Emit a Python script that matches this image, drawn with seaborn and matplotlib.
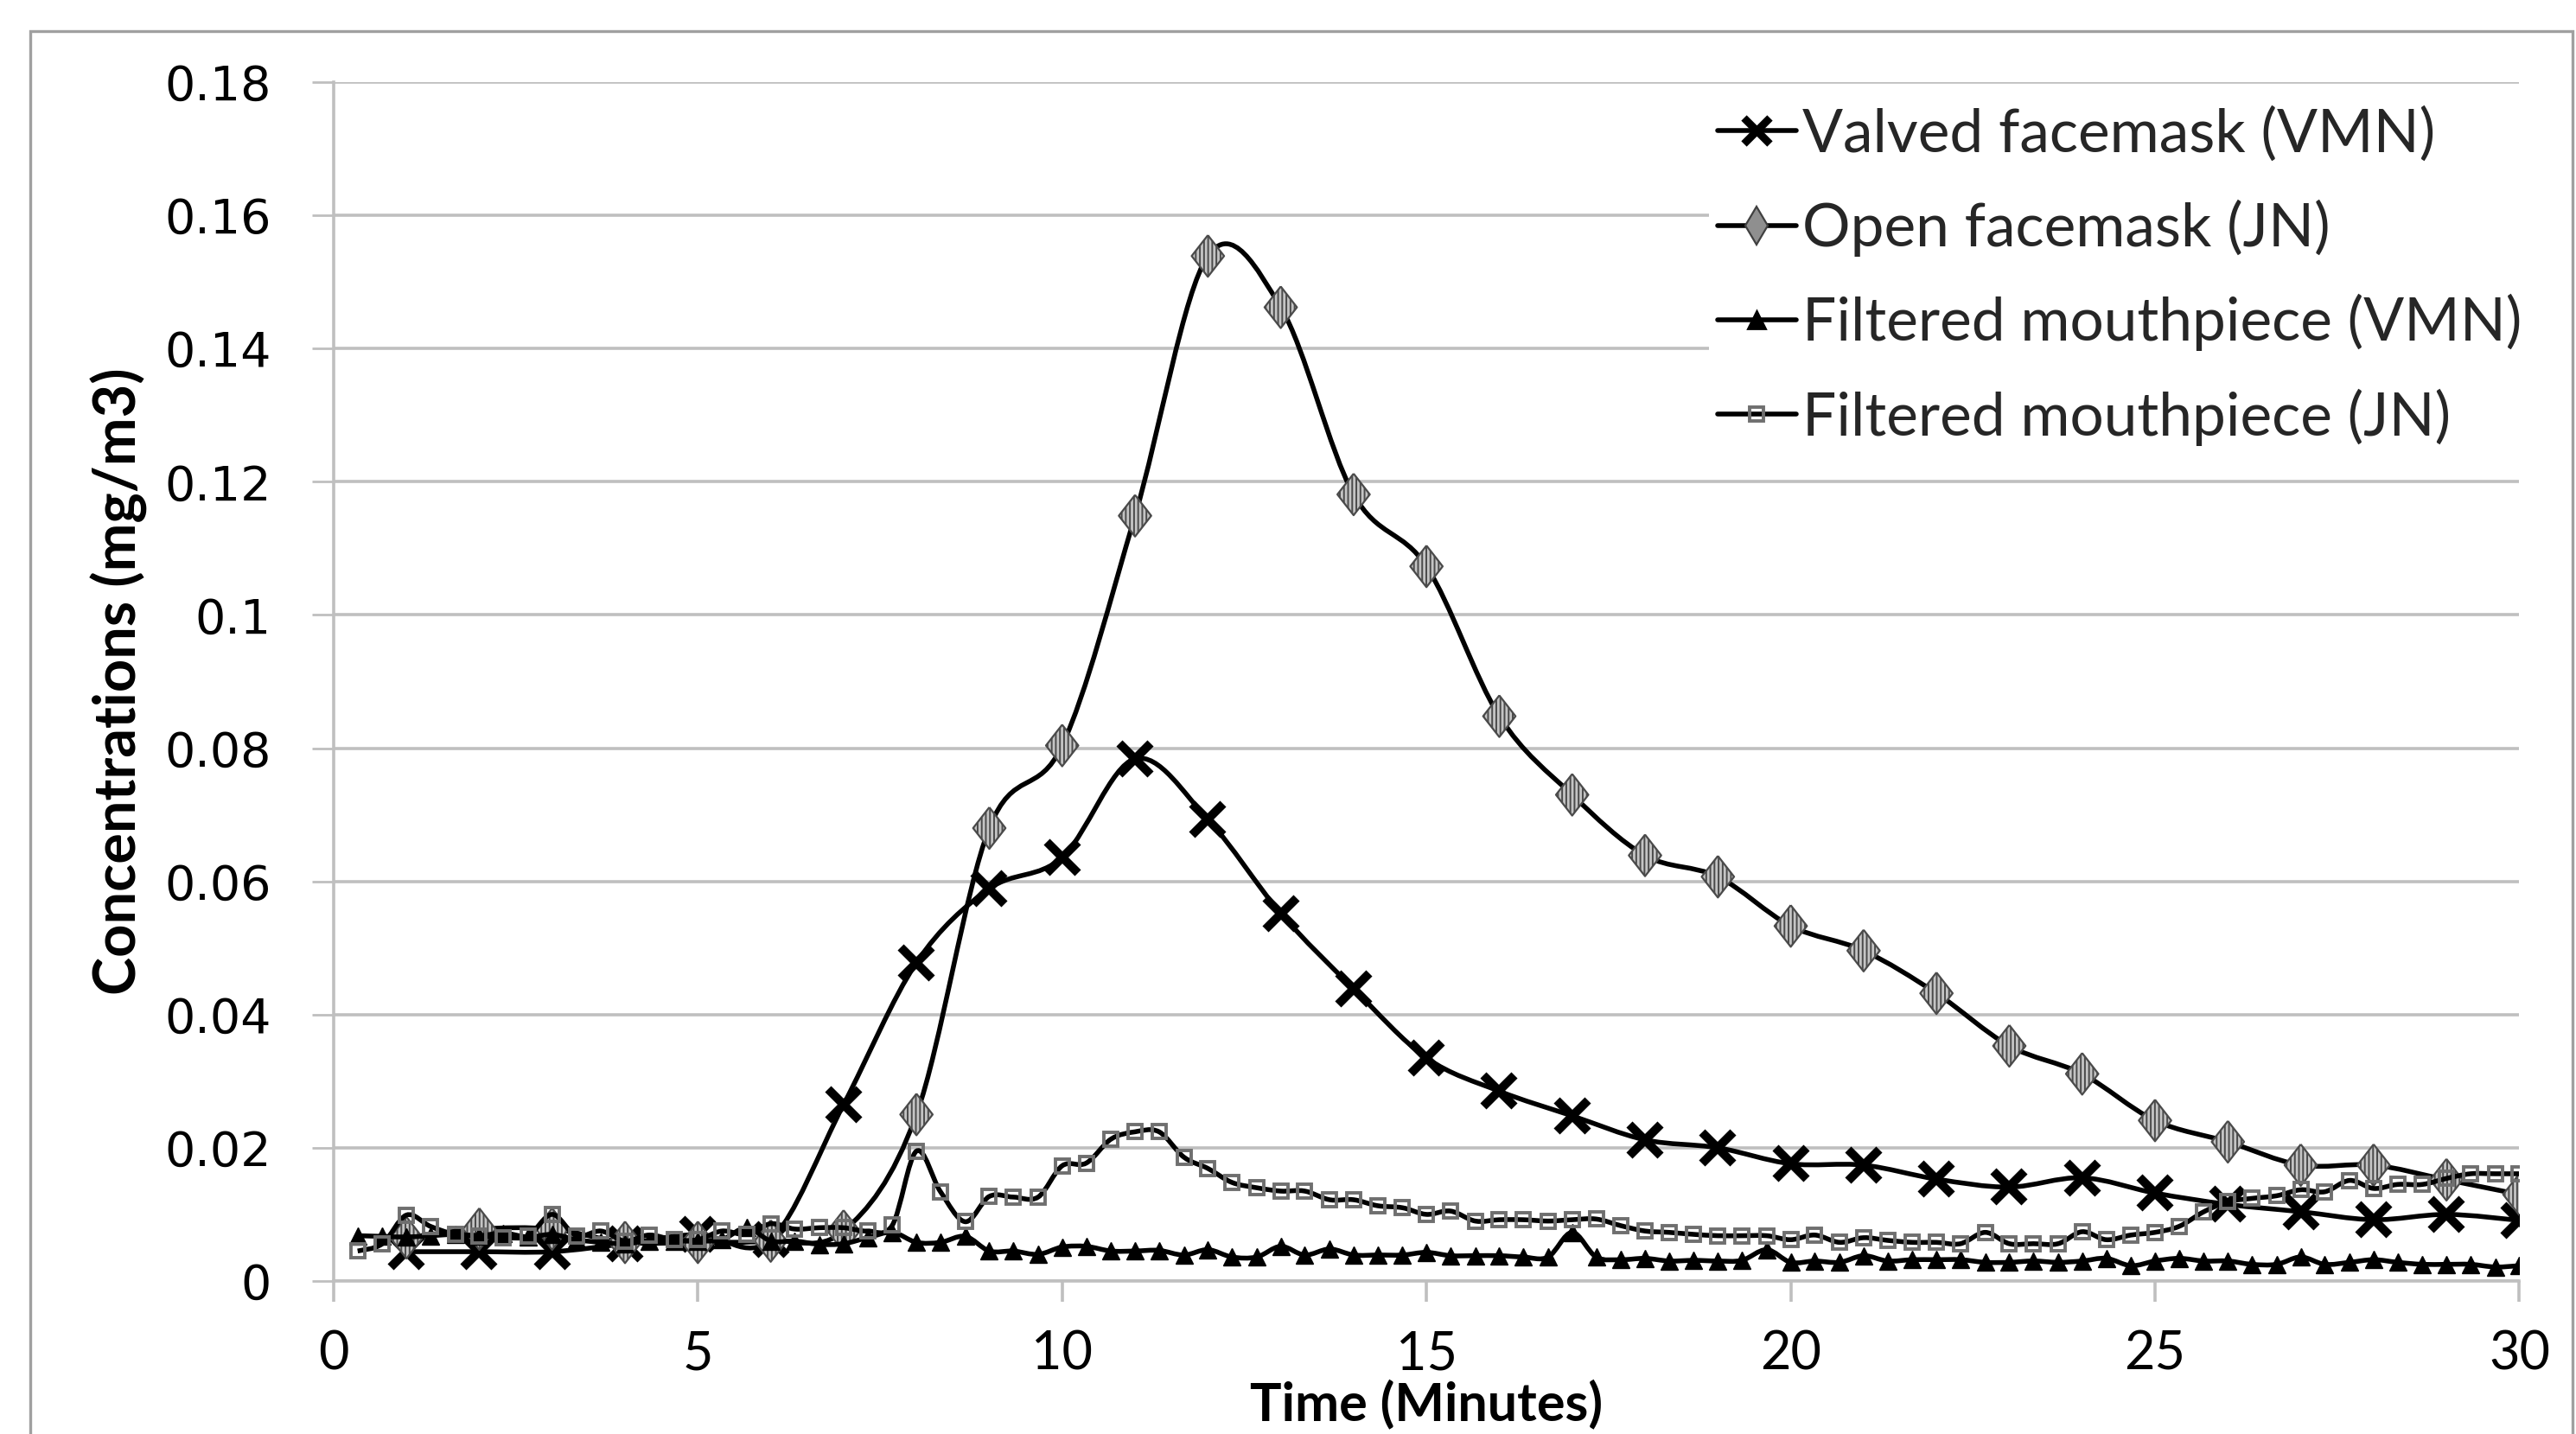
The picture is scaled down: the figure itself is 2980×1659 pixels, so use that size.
import numpy as np
import pandas as pd
import matplotlib
matplotlib.use('Agg')
import matplotlib.pyplot as plt
from matplotlib.path import Path
from matplotlib.patches import PathPatch, Rectangle
from matplotlib.lines import Line2D
import seaborn as sns

# One reading per minute (facemasks)
minutes = [1, 2, 3, 4, 5, 6, 7, 8, 9, 10, 11, 12, 13, 14, 15,
           16, 17, 18, 19, 20, 21, 22, 23, 24, 25, 26, 27, 28, 29, 30]
valved_facemask_vmn = [0.0044, 0.0044, 0.0044, 0.0056, 0.0070, 0.0062, 0.0265, 0.0478, 0.0589, 0.0636,
                       0.0784, 0.0693, 0.0552, 0.0439, 0.0335, 0.0285, 0.0248, 0.0212, 0.0200, 0.0176,
                       0.0174, 0.0153, 0.0141, 0.0155, 0.0132, 0.0115, 0.0104, 0.0092, 0.0100, 0.0091]
open_facemask_jn = [0.0065, 0.0078, 0.0078, 0.0058, 0.0058, 0.0060, 0.0075, 0.0250, 0.0680, 0.0804,
                    0.1149, 0.1539, 0.1462, 0.1181, 0.1073, 0.0848, 0.0730, 0.0639, 0.0607, 0.0533,
                    0.0496, 0.0432, 0.0353, 0.0311, 0.0241, 0.0209, 0.0174, 0.0174, 0.0152, 0.0130]

# One reading every 20 s (filtered mouthpieces)
minutes_20s = [0.33, 0.67, 1.00, 1.33, 1.67, 2.00, 2.33, 2.67, 3.00, 3.33, 3.67, 4.00, 4.33, 4.67, 5.00,
               5.33, 5.67, 6.00, 6.33, 6.67, 7.00, 7.33, 7.67, 8.00, 8.33, 8.67, 9.00, 9.33, 9.67, 10.00,
               10.33, 10.67, 11.00, 11.33, 11.67, 12.00, 12.33, 12.67, 13.00, 13.33, 13.67, 14.00, 14.33, 14.67, 15.00,
               15.33, 15.67, 16.00, 16.33, 16.67, 17.00, 17.33, 17.67, 18.00, 18.33, 18.67, 19.00, 19.33, 19.67, 20.00,
               20.33, 20.67, 21.00, 21.33, 21.67, 22.00, 22.33, 22.67, 23.00, 23.33, 23.67, 24.00, 24.33, 24.67, 25.00,
               25.33, 25.67, 26.00, 26.33, 26.67, 27.00, 27.33, 27.67, 28.00, 28.33, 28.67, 29.00, 29.33, 29.67, 30.00]
mouthpiece_vmn = [0.0068, 0.0067, 0.0066, 0.0068, 0.0070, 0.0068, 0.0072, 0.0066, 0.0070, 0.0062, 0.0058, 0.0056, 0.0060, 0.0060, 0.0060,
                  0.0062, 0.0080, 0.0060, 0.0060, 0.0055, 0.0056, 0.0065, 0.0073, 0.0058, 0.0058, 0.0067, 0.0045, 0.0045, 0.0040, 0.0051,
                  0.0052, 0.0045, 0.0045, 0.0046, 0.0039, 0.0047, 0.0036, 0.0036, 0.0052, 0.0039, 0.0048, 0.0039, 0.0039, 0.0039, 0.0043,
                  0.0038, 0.0038, 0.0038, 0.0036, 0.0036, 0.0073, 0.0036, 0.0032, 0.0034, 0.0030, 0.0031, 0.0030, 0.0031, 0.0047, 0.0028,
                  0.0030, 0.0028, 0.0038, 0.0030, 0.0032, 0.0032, 0.0032, 0.0028, 0.0028, 0.0030, 0.0028, 0.0030, 0.0034, 0.0023, 0.0030,
                  0.0034, 0.0030, 0.0030, 0.0025, 0.0025, 0.0036, 0.0025, 0.0028, 0.0032, 0.0028, 0.0025, 0.0025, 0.0025, 0.0021, 0.0023]
mouthpiece_jn = [0.0045, 0.0056, 0.0099, 0.0082, 0.0070, 0.0068, 0.0065, 0.0068, 0.0100, 0.0068, 0.0075, 0.0060, 0.0069, 0.0062, 0.0062,
                 0.0075, 0.0070, 0.0086, 0.0078, 0.0080, 0.0080, 0.0075, 0.0084, 0.0195, 0.0134, 0.0089, 0.0127, 0.0126, 0.0126, 0.0173,
                 0.0177, 0.0213, 0.0224, 0.0224, 0.0186, 0.0169, 0.0148, 0.0140, 0.0135, 0.0135, 0.0122, 0.0122, 0.0113, 0.0110, 0.0100,
                 0.0105, 0.0090, 0.0092, 0.0092, 0.0090, 0.0092, 0.0093, 0.0083, 0.0075, 0.0073, 0.0070, 0.0068, 0.0068, 0.0068, 0.0062,
                 0.0069, 0.0058, 0.0065, 0.0061, 0.0058, 0.0058, 0.0056, 0.0073, 0.0056, 0.0056, 0.0056, 0.0074, 0.0062, 0.0069, 0.0073,
                 0.0082, 0.0104, 0.0119, 0.0124, 0.0128, 0.0137, 0.0134, 0.0151, 0.0139, 0.0145, 0.0145, 0.0154, 0.0161, 0.0161, 0.0161]

labels = ['Valved facemask (VMN)', 'Open facemask (JN)',
          'Filtered mouthpiece (VMN)', 'Filtered mouthpiece (JN)']
x_ticks = [0, 5, 10, 15, 20, 25, 30]
y_ticks = [0, 0.02, 0.04, 0.06, 0.08, 0.1, 0.12, 0.14, 0.16, 0.18]
y_tick_labels = ['0', '0.02', '0.04', '0.06', '0.08', '0.1', '0.12', '0.14', '0.16', '0.18']

sns.set_theme(style='white')
plt.rcParams['font.family'] = ['Lato', 'DejaVu Sans']
plt.rcParams['hatch.linewidth'] = 0.7
plt.rcParams['hatch.color'] = '#3c3c3c'

fig = plt.figure(figsize=(14.9, 8.295), dpi=200)
ax = fig.add_axes([0.1295, 0.1067, 0.8485, 0.836])


def smooth_path(x, y):
    # Excel style "smoothed line": cubic Bezier through every point
    pts = np.column_stack([x, y]).astype(float)
    ext = np.vstack([pts[0], pts, pts[-1]])
    verts = [pts[0]]
    codes = [Path.MOVETO]
    for i in range(len(pts) - 1):
        p0, p1, p2, p3 = ext[i], ext[i + 1], ext[i + 2], ext[i + 3]
        verts += [p1 + (p2 - p0) / 6, p2 - (p3 - p1) / 6, p2]
        codes += [Path.CURVE4] * 3
    return Path(verts, codes)


line_w = 2.0
# wide diamond like the Excel marker
diamond = [(0, 1), (0.78, 0), (0, -1), (-0.78, 0), (0, 1)]

# Valved facemask
ax.add_patch(PathPatch(smooth_path(minutes, valved_facemask_vmn), fill=False, ec='black', lw=line_w, zorder=3))
sns.lineplot(x=minutes, y=valved_facemask_vmn, marker='x', linestyle='', markersize=13,
             mew=3.6, mec='black', color='black', estimator=None, ax=ax, zorder=4)

# Open facemask
ax.add_patch(PathPatch(smooth_path(minutes, open_facemask_jn), fill=False, ec='black', lw=line_w, zorder=5))
sns.scatterplot(x=minutes, y=open_facemask_jn, marker=diamond, s=300, color='#c4c4c4',
                edgecolor='#4a4a4a', linewidth=0.8, hatch='|||||||', ax=ax, zorder=6)

# Filtered mouthpiece VMN
ax.add_patch(PathPatch(smooth_path(minutes_20s, mouthpiece_vmn), fill=False, ec='black', lw=line_w, zorder=7))
sns.lineplot(x=minutes_20s, y=mouthpiece_vmn, marker='^', linestyle='', markersize=7,
             mew=0.5, mec='black', color='black', estimator=None, ax=ax, zorder=8)

# Filtered mouthpiece JN
ax.add_patch(PathPatch(smooth_path(minutes_20s, mouthpiece_jn), fill=False, ec='black', lw=line_w, zorder=9))
sns.lineplot(x=minutes_20s, y=mouthpiece_jn, marker='s', linestyle='', markersize=6,
             mew=1.4, mec='#6f6f6f', markerfacecolor='none', color='black', estimator=None, ax=ax, zorder=10)

ax.set_xlim(0, 30)
ax.set_ylim(0, 0.18)
ax.set_xticks(x_ticks)
ax.set_yticks(y_ticks)
ax.set_yticklabels(y_tick_labels)

grid_c = '#bfbfbf'
ax.grid(axis='y', color=grid_c, lw=1.3)
ax.grid(axis='x', visible=False)
ax.set_axisbelow(True)
for side in ['top', 'right']:
    ax.spines[side].set_visible(False)
for side in ['left', 'bottom']:
    ax.spines[side].set_color(grid_c)
    ax.spines[side].set_linewidth(1.3)

ax.tick_params(axis='y', direction='out', left=True, length=9, width=1, color=grid_c,
               pad=17, labelsize=20, labelfontfamily='DejaVu Sans', labelcolor='black')
ax.tick_params(axis='x', direction='out', bottom=True, length=8.5, width=1.3, color=grid_c,
               pad=12, labelsize=22, labelcolor='black')

ax.set_xlabel('Time (Minutes)', fontsize=22, fontweight='bold', color='black')
ax.set_ylabel('Concentrations (mg/m3)', fontsize=24, fontweight='bold', color='black')
ax.xaxis.set_label_coords(0.5, -0.0815)
ax.yaxis.set_label_coords(-0.085, 0.5)

handles = [
    Line2D([0], [0], color='black', lw=line_w, marker='x', ms=11, mew=3.2, mec='black'),
    Line2D([0], [0], color='black', lw=line_w, marker='d', ms=11, mfc='#8f8f8f', mec='#404040', mew=0.8),
    Line2D([0], [0], color='black', lw=line_w, marker='^', ms=7, mfc='black', mec='black'),
    Line2D([0], [0], color='black', lw=line_w, marker='s', ms=6, mfc='none', mec='#6f6f6f', mew=1.4),
]
ax.legend(handles, labels, loc='upper left', bbox_to_anchor=(0.6634, 0.932), bbox_transform=fig.transFigure,
          frameon=True, fancybox=False, facecolor='white', edgecolor='none', framealpha=1,
          fontsize=25, handlelength=1.3, handletextpad=0.1, labelspacing=0.62, borderpad=0.15,
          borderaxespad=0)

# Outer chart frame
fig.patches.append(Rectangle((0.0117, -0.05), 0.9868, 1.028, transform=fig.transFigure,
                             fill=False, ec='#a0a0a0', lw=1.2))

fig.savefig('out.png', dpi=200, facecolor='white')
